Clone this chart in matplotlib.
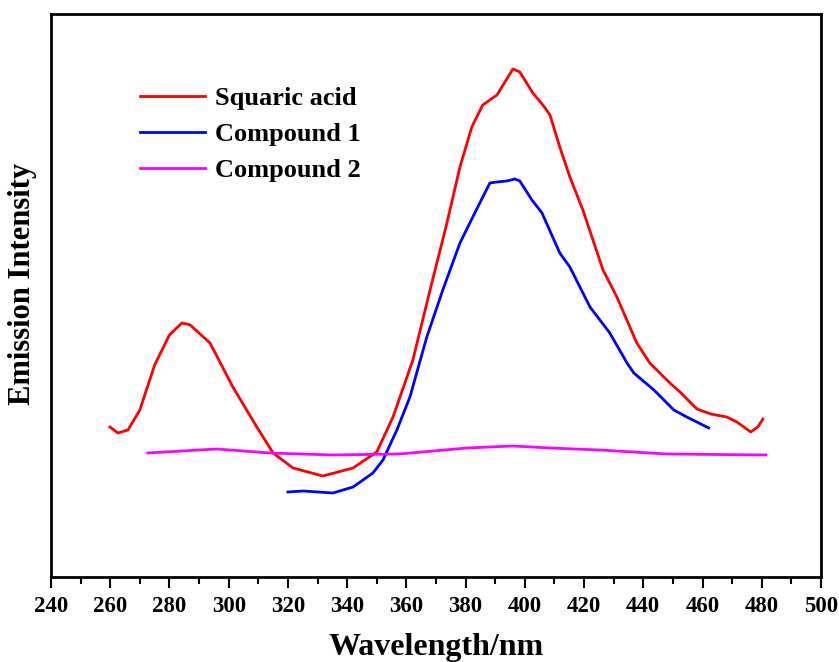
import matplotlib.pyplot as plt
from matplotlib.ticker import MultipleLocator

# valores (intensidade em unidades arbitrarias)
x_sa = [259.9, 262.6, 266, 270, 275, 280, 284.2, 287, 293.7, 301.4, 309.5, 315, 321.7, 331.8,
        342, 350, 355.5, 362.2, 368, 373.7, 378.1, 382.1, 385.8, 390.6, 396, 398.3, 402.7,
        406.1, 408.5, 411.8, 415.2, 419.6, 426.4, 431.1, 437.8, 442.2, 449, 452.4, 458.1,
        462.8, 468.2, 471.6, 476.3, 478.7, 480.4]
y_sa = [150, 144, 147, 167, 212, 242, 254, 252, 234, 190, 150, 124, 109, 101,
        109, 125, 160, 217, 287, 354, 410, 450, 472, 482, 508, 505, 484,
        472, 462, 430, 400, 367, 307, 280, 234, 214, 194, 185, 168,
        163, 160, 155, 145, 150, 158]

x_c1 = [320, 325.1, 335.2, 342, 348.7, 352.1, 356.8, 361.2, 366.9, 372.3, 378.1, 383.1, 388.2,
        390.6, 394, 396.6, 398.3, 402.4, 405.8, 411.8, 415.2, 422, 428.7, 434.5, 436.8,
        443.6, 450.3, 454.7, 462.1]
y_c1 = [85, 86, 84, 90, 104, 117, 147, 180, 240, 287, 334, 364, 394,
        395, 396, 398, 396, 377, 364, 324, 310, 270, 244, 214, 204,
        187, 167, 160, 149]

x_c2 = [272.7, 296, 313.9, 335.2, 357.8, 380.4, 396, 408.5, 425.3, 447.9, 481.4]
y_c2 = [124, 128, 124, 122, 123, 129, 131, 129, 127, 123, 122]

plt.rcParams['font.family'] = ['Liberation Serif', 'DejaVu Serif']
plt.rcParams['font.weight'] = 'bold'

fig = plt.figure(figsize=(8.39, 6.62), dpi=100)
ax = fig.add_axes([0.0608, 0.1284, 0.9177, 0.8505])

ax.plot(x_sa, y_sa, color='#ff0000', lw=2, label='Squaric acid')
ax.plot(x_c1, y_c1, color='#0000ff', lw=2, label='Compound 1')
ax.plot(x_c2, y_c2, color='#ff00ff', lw=2, label='Compound 2')

ax.set_xlim(240, 500)
ax.set_ylim(0, 563)
ax.xaxis.set_major_locator(MultipleLocator(20))
ax.xaxis.set_minor_locator(MultipleLocator(10))
ax.set_yticks([])
ax.tick_params(axis='x', which='major', direction='out', length=8, width=1.5, labelsize=16.5, pad=6)
ax.tick_params(axis='x', which='minor', direction='out', length=5, width=1.5)
for s in ax.spines.values():
    s.set_linewidth(2)

ax.set_xlabel('Wavelength/nm', fontsize=23, fontweight='bold', labelpad=11)
ax.set_ylabel('Emission Intensity', fontsize=22, fontweight='bold')
ax.yaxis.set_label_coords(-0.018, 0.52)

ax.legend(loc='upper left', bbox_to_anchor=(0.1156, 0.871), frameon=False, fontsize=19,
          handlelength=2.45, handletextpad=0.4, labelspacing=0.47, borderpad=0, borderaxespad=0)

fig.savefig('out.png', dpi=100)
